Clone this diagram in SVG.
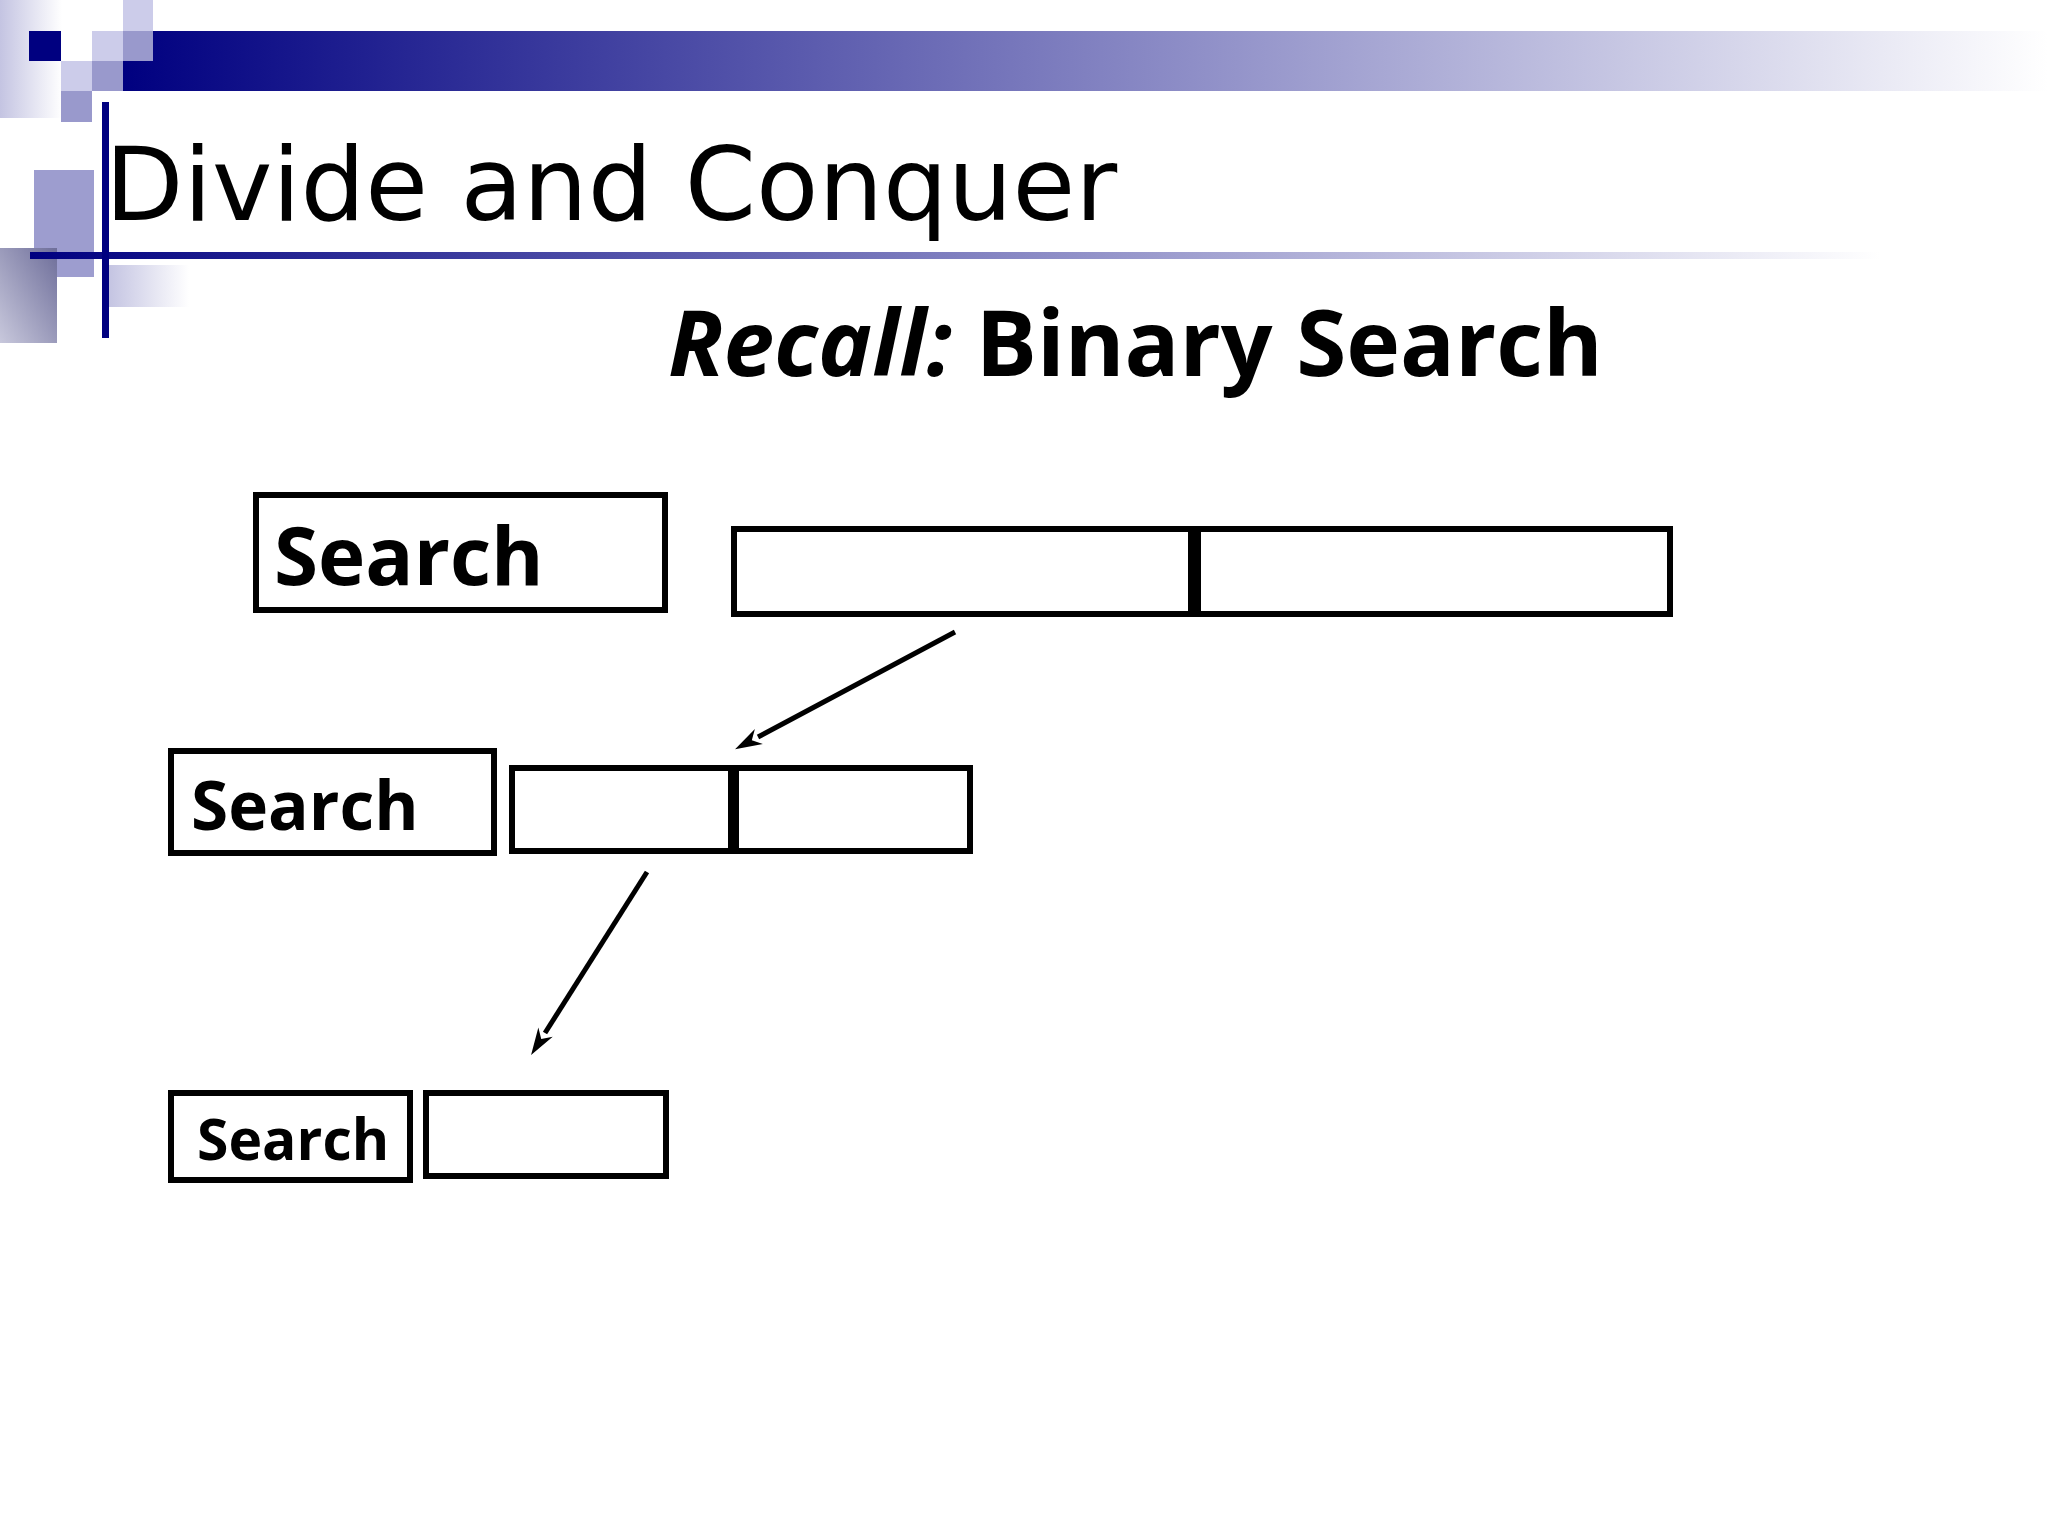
<svg xmlns="http://www.w3.org/2000/svg" width="2048" height="1536" viewBox="0 0 2048 1536">
<defs>
<linearGradient id="gBar" x1="123" y1="0" x2="2048" y2="0" gradientUnits="userSpaceOnUse">
<stop offset="0" stop-color="#000080"/><stop offset="0.5" stop-color="#8080c0"/><stop offset="1" stop-color="#ffffff"/>
</linearGradient>
<linearGradient id="gLine" x1="30" y1="0" x2="1880" y2="0" gradientUnits="userSpaceOnUse">
<stop offset="0" stop-color="#000080"/><stop offset="1" stop-color="#ffffff"/>
</linearGradient>
<linearGradient id="gLeft" x1="0" y1="0" x2="1" y2="0">
<stop offset="0" stop-color="#c4c4e2"/><stop offset="1" stop-color="#ffffff"/>
</linearGradient>
<linearGradient id="gStrip" x1="0" y1="0" x2="1" y2="0">
<stop offset="0" stop-color="#c4c4e2"/><stop offset="1" stop-color="#ffffff"/>
</linearGradient>
<linearGradient id="gGray" x1="1" y1="0" x2="0" y2="1">
<stop offset="0" stop-color="#6e6e9a"/><stop offset="1" stop-color="#c8c8dc"/>
</linearGradient>
<marker id="arrow" markerUnits="userSpaceOnUse" markerWidth="40" markerHeight="30" refX="0" refY="0" viewBox="-5 -15 40 30" orient="auto">
<path d="M26 0 L-1 -8.5 L7 0 L-1 8.5 Z" fill="#000"/>
</marker>
<style>
.box{fill:#fff;stroke:#000;stroke-width:6}
.div{fill:#000}
.lbl{font-family:"Open Sans","Noto Sans",sans-serif;font-weight:bold;fill:#000}
.conn{stroke:#000;stroke-width:5;fill:none;marker-end:url(#arrow)}
</style>
</defs>
<rect width="2048" height="1536" fill="#fff"/>
<g id="decoration">
<rect x="0" y="0" width="62" height="118" fill="url(#gLeft)"/>
<rect x="123" y="0" width="30" height="31" fill="#ccccea"/>
<rect x="29" y="31" width="32" height="30" fill="#000080"/>
<rect x="92" y="31" width="31" height="30" fill="#ccccea"/>
<rect x="123" y="31" width="30" height="30" fill="#9999cc"/>
<rect x="61" y="61" width="31" height="30" fill="#ccccea"/>
<rect x="92" y="61" width="31" height="30" fill="#9999cc"/>
<rect x="61" y="91" width="31" height="31" fill="#9999cc"/>
<path d="M153 31 H2048 V91 H123 V61 H153 Z" fill="url(#gBar)"/>
<rect x="34" y="170" width="60" height="107" fill="#9d9dcf"/>
<rect x="0" y="248" width="57" height="95" fill="url(#gGray)"/>
<rect x="109" y="265" width="80" height="42" fill="url(#gStrip)"/>
<rect x="30" y="252" width="1850" height="7" fill="url(#gLine)"/>
<rect x="102" y="102" width="7" height="236" fill="#000080"/>
</g>
<g id="title">
<text x="105" y="220" font-family="DejaVu Sans, sans-serif" font-size="102" fill="#000">Divide and Conquer</text>
</g>
<g id="subtitle">
<text x="668" y="376" class="lbl" font-size="91"><tspan font-style="italic">Recall:</tspan> Binary Search</text>
</g>
<g id="search1">
<rect class="box" x="256" y="495" width="409" height="115"/>
<text class="lbl" x="274" y="585" font-size="80">Search</text>
</g>
<g id="array1">
<rect class="box" x="734" y="529" width="936" height="85"/>
<rect class="div" x="1188" y="529" width="13" height="85"/>
</g>
<g id="search2">
<rect class="box" x="171" y="751" width="323" height="102"/>
<text class="lbl" x="191" y="830" font-size="67.5">Search</text>
</g>
<g id="array2">
<rect class="box" x="512" y="768" width="458" height="83"/>
<rect class="div" x="728" y="768" width="11" height="83"/>
</g>
<g id="search3">
<rect class="box" x="171" y="1093" width="239" height="87"/>
<text class="lbl" x="197" y="1160" font-size="57">Search</text>
</g>
<g id="array3">
<rect class="box" x="426" y="1093" width="240" height="83"/>
</g>
<g id="connectors">
<line class="conn" x1="955" y1="632" x2="758" y2="737"/>
<line class="conn" x1="647" y1="872" x2="545" y2="1033"/>
</g>
</svg>
